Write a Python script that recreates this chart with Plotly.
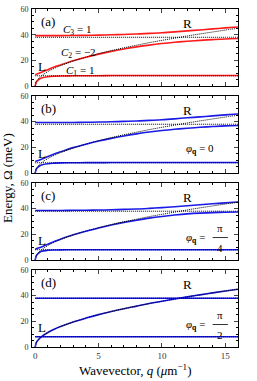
import plotly.graph_objects as go

q = [0, 0.1, 0.25, 0.5, 1, 1.5, 2, 3, 4, 5, 6, 7, 8, 9, 10, 11, 12, 13, 14, 15, 16]

# bare (uncoupled) modes
plasmon = [0, 3.6, 5.6, 8.0, 11.3, 13.8, 15.9, 19.5, 22.5, 25.2, 27.6, 29.8, 31.8, 33.8, 35.6, 37.3, 39.0, 40.6, 42.1, 43.6, 45.0]
phonon_hi = [38.0] * len(q)
phonon_lo = [8.0] * len(q)

# coupled branches, phi_q = 0 (panels a, b)
up0 = [39.3, 39.3, 39.3, 39.3, 39.3, 39.3, 39.3, 39.4, 39.5, 39.7, 39.9, 40.2, 40.5, 41.0, 41.5, 42.2, 43.0, 43.7, 44.5, 45.3, 46.0]
mid0 = [9.0, 9.3, 9.8, 10.8, 12.8, 14.8, 16.5, 19.8, 22.5, 24.9, 27.0, 28.9, 30.5, 31.9, 33.1, 34.1, 34.9, 35.6, 36.2, 36.7, 37.0]
low0 = [0, 3.3, 4.9, 6.3, 7.3, 7.7, 7.9, 8.0, 8.1, 8.1, 8.2, 8.2, 8.2, 8.2, 8.2, 8.2, 8.2, 8.2, 8.2, 8.2, 8.2]

# phi_q = pi/4 (panel c)
up4 = [38.6, 38.6, 38.6, 38.6, 38.6, 38.6, 38.6, 38.7, 38.8, 38.9, 39.1, 39.4, 39.7, 40.2, 40.8, 41.5, 42.3, 43.0, 43.8, 44.5, 45.2]
mid4 = [8.5, 8.8, 9.3, 10.2, 12.2, 14.4, 16.2, 19.6, 22.4, 25.0, 27.3, 29.3, 31.0, 32.6, 33.9, 35.0, 35.9, 36.5, 36.9, 37.2, 37.4]
low4 = [0, 3.4, 5.2, 6.8, 7.6, 7.8, 7.9, 8.0, 8.0, 8.0, 8.0, 8.0, 8.0, 8.0, 8.0, 8.0, 8.0, 8.0, 8.0, 8.0, 8.0]

RED = "#ff1a1a"
BLUE = "#1a1ae6"
FONT = "Liberation Serif"

panels = [
    ("(a)", RED, [up0, mid0, low0], [phonon_hi, phonon_lo, plasmon]),
    ("(b)", BLUE, [up0, mid0, low0], [phonon_hi, phonon_lo, plasmon]),
    ("(c)", BLUE, [up4, mid4, low4], [phonon_hi, phonon_lo, plasmon]),
    ("(d)", BLUE, [phonon_hi, phonon_lo, plasmon], [phonon_hi, phonon_lo, plasmon]),
]

H = 342.0
domains = [
    [264 / H, 1.0],
    [176 / H, 254 / H],
    [88 / H, 166 / H],
    [0.0, 78 / H],
]

fig = go.Figure()
for i, (lab, col, branches, bare) in enumerate(panels):
    n = i + 1
    xa = "x" if n == 1 else f"x{n}"
    ya = "y" if n == 1 else f"y{n}"
    for b in branches:
        fig.add_trace(go.Scatter(x=q, y=b, mode="lines", line=dict(color=col, width=1.6, shape="spline"),
                                 xaxis=xa, yaxis=ya, showlegend=False, hoverinfo="skip"))
    for b in bare:
        fig.add_trace(go.Scatter(x=q, y=b, mode="lines", line=dict(color="black", width=1.0, dash="1px,1px", shape="spline"),
                                 xaxis=xa, yaxis=ya, showlegend=False, hoverinfo="skip"))
    axk = "xaxis" if n == 1 else f"xaxis{n}"
    ayk = "yaxis" if n == 1 else f"yaxis{n}"
    fig.layout[axk] = dict(
        domain=[0, 1], anchor=ya, range=[-0.25, 16], tickvals=[0, 5, 10, 15],
        showticklabels=(n == 4), ticks="inside", ticklen=4, tickwidth=1, mirror="ticks",
        showline=True, linecolor="black", linewidth=1, showgrid=False, zeroline=False,
        minor=dict(dtick=1, ticks="inside", ticklen=2, tickcolor="black", showgrid=False),
        tickfont=dict(family=FONT, size=9, color="#333"),
    )
    fig.layout[ayk] = dict(
        domain=domains[i], anchor=xa, range=[0, 60], tickvals=[0, 20, 40, 60],
        ticks="inside", ticklen=4, tickwidth=1, mirror="ticks",
        showline=True, linecolor="black", linewidth=1, showgrid=False, zeroline=False,
        minor=dict(dtick=5, ticks="inside", ticklen=2, tickcolor="black", showgrid=False),
        tickfont=dict(family=FONT, size=8, color="#333"), ticklabelstandoff=1,
    )
    af = dict(family=FONT, size=13, color="black")
    fig.add_annotation(x=0.3, y=50, xref=xa, yref=ya, text=lab, showarrow=False, xanchor="left", font=af)
    fig.add_annotation(x=0.1, y=15, xref=xa, yref=ya, text="L", showarrow=False, xanchor="left", font=af)
    fig.add_annotation(x=12.0, y=48.5, xref=xa, yref=ya, text="R", showarrow=False, font=af)

cf = dict(family=FONT, size=11, color="black")
fig.add_annotation(x=3.3, y=44.0, xref="x", yref="y", text="<i>C</i><sub>3</sub> = 1", showarrow=False, font=cf)
fig.add_annotation(x=3.4, y=25.5, xref="x", yref="y", text="<i>C</i><sub>2</sub> = −2", showarrow=False, font=cf)
fig.add_annotation(x=3.5, y=12.0, xref="x", yref="y", text="<i>C</i><sub>1</sub> = 1", showarrow=False, font=cf)

phi = "<i>φ</i><sub><b>q</b></sub> = "
fig.add_annotation(x=13.0, y=19, xref="x2", yref="y2", text=phi + "0", showarrow=False, font=cf)
for ax_, ay_ in (("x3", "y3"), ("x4", "y4")):
    fig.add_annotation(x=13.8, y=17, xref=ax_, yref=ay_, text=phi, showarrow=False, xanchor="right", font=cf)
    fig.add_annotation(x=14.6, y=25, xref=ax_, yref=ay_, text="π", showarrow=False, font=cf)
    fig.add_annotation(x=14.6, y=9.5, xref=ax_, yref=ay_, text="4" if ax_ == "x3" else "2", showarrow=False, font=cf)
    fig.add_shape(type="line", x0=14.0, x1=15.2, y0=17.5, y1=17.5, xref=ax_, yref=ay_, line=dict(color="black", width=0.8))

fig.add_annotation(x=0.5, y=0, xref="paper", yref="paper", yanchor="top", yshift=-13,
                   text="Wavevector, <i>q</i> (<i>μ</i>m<sup>−1</sup>)",
                   showarrow=False, font=dict(family=FONT, size=13, color="black"))
fig.add_annotation(x=0, y=0.5, xref="paper", yref="paper", xshift=-25, text="Energy, Ω (meV)", textangle=-90,
                   showarrow=False, xanchor="center", yanchor="middle", font=dict(family=FONT, size=13, color="black"))

fig.update_layout(width=257, height=381, margin=dict(l=32, r=19, t=5, b=34),
                  plot_bgcolor="white", paper_bgcolor="white", showlegend=False)
fig.write_html("out.html", config={"displayModeBar": False},
               post_script="document.body.style.margin='0';document.body.style.overflow='hidden';")
